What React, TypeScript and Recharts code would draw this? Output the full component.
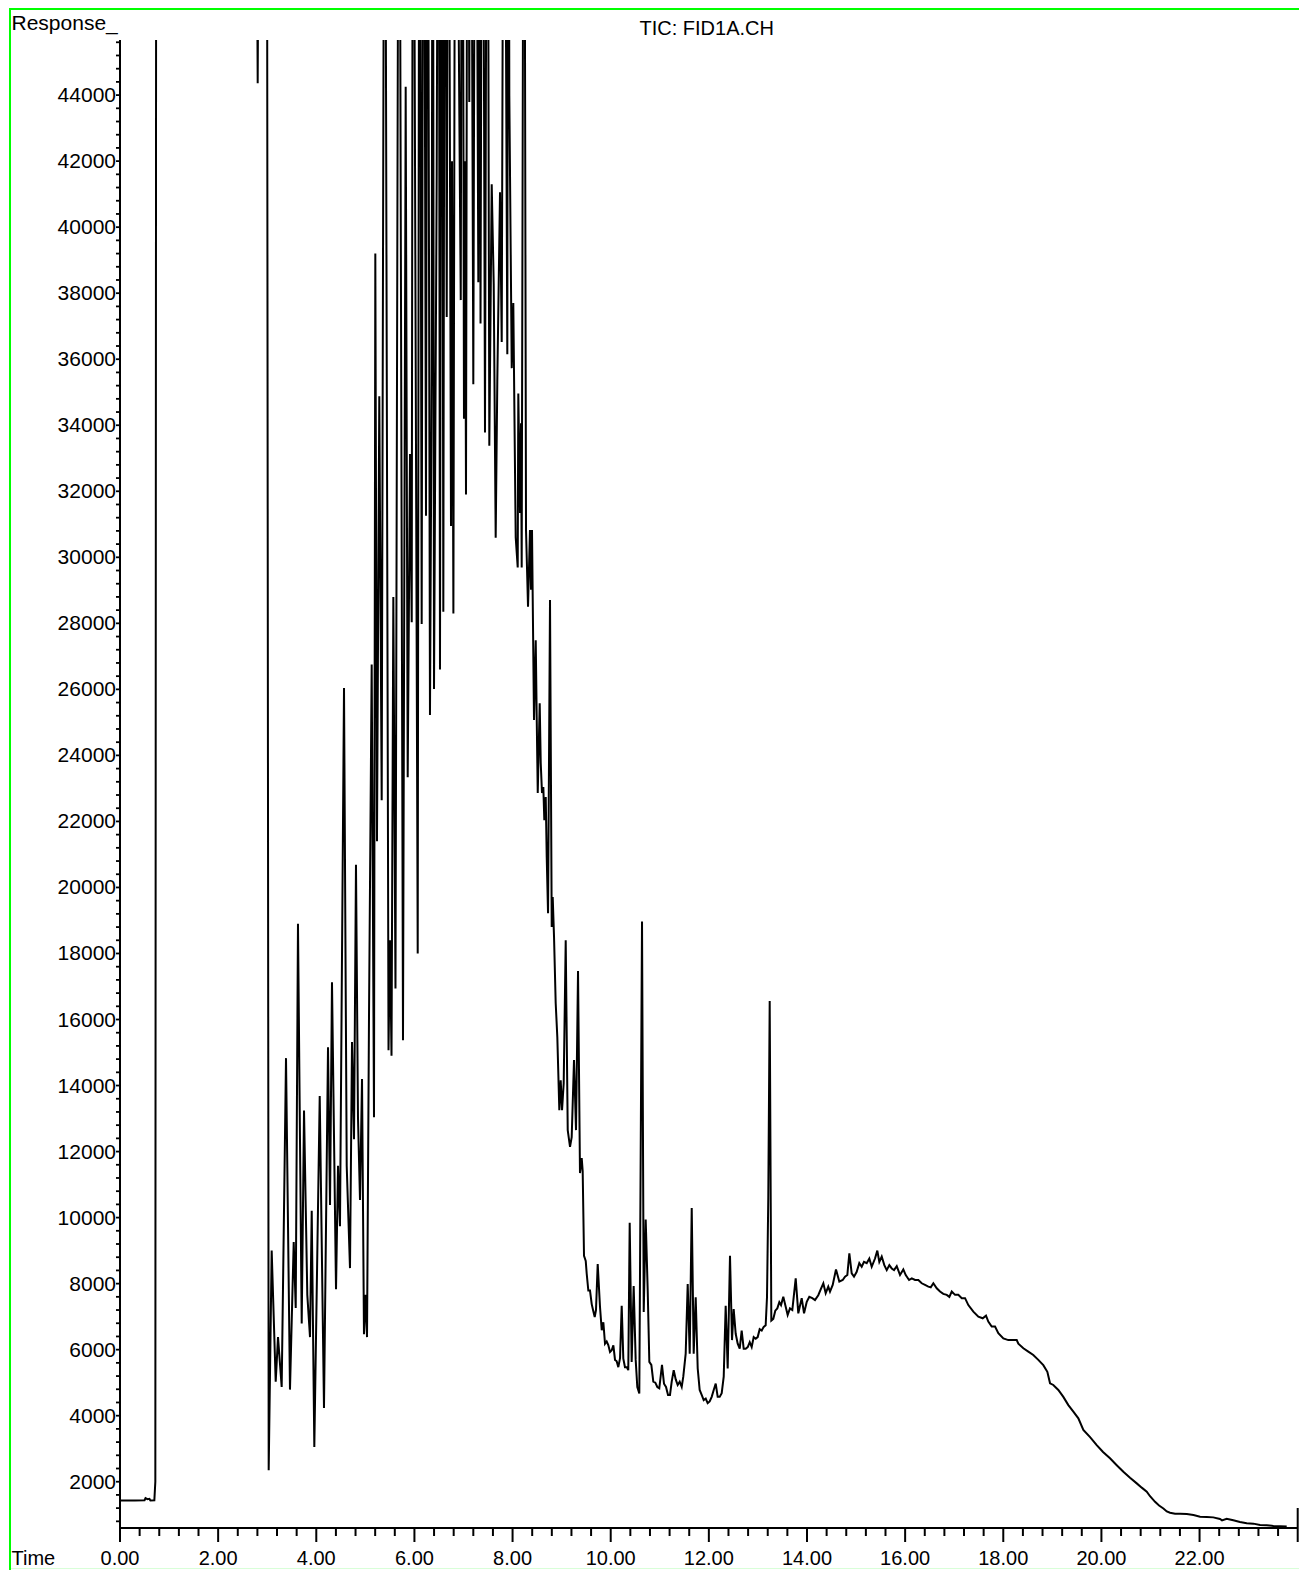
import React from 'react';
import { LineChart, Line, XAxis, YAxis } from 'recharts';

// Retention time (min)
const times: number[] = [
  0.0, 0.3, 0.5, 0.52, 0.56, 0.6, 0.62, 0.7, 0.72, 0.74, 1.5, 2.74,
  2.751, 2.806, 2.853, 2.95, 2.99, 3.03,
  3.091, 3.173, 3.22, 3.295, 3.383, 3.464, 3.54, 3.581, 3.627, 3.703, 3.75, 3.817, 3.872, 3.907, 3.96,
  4.07, 4.157, 4.239, 4.28, 4.32, 4.402, 4.443, 4.483, 4.565, 4.62, 4.687, 4.728, 4.769, 4.809, 4.85, 4.891, 4.932, 4.972,
  5.007, 5.034, 5.074, 5.129, 5.176, 5.203, 5.237, 5.284, 5.333, 5.394, 5.472, 5.502, 5.533, 5.57, 5.614, 5.686, 5.767, 5.822, 5.863, 5.91, 5.945, 5.971,
  6.067, 6.103, 6.148, 6.185, 6.236, 6.267, 6.317, 6.352, 6.373, 6.399, 6.454, 6.491, 6.521, 6.556, 6.589, 6.623, 6.658, 6.69, 6.745, 6.766, 6.794, 6.837, 6.915, 6.944, 6.976,
  7.01, 7.031, 7.051, 7.086, 7.118, 7.143, 7.2, 7.245, 7.302, 7.322, 7.347, 7.387, 7.438, 7.485, 7.526, 7.575, 7.616, 7.656, 7.689, 7.744, 7.779, 7.826, 7.893, 7.913, 7.934, 7.983,
  8.015, 8.064, 8.105, 8.117, 8.152, 8.172, 8.186, 8.233, 8.274, 8.315, 8.355, 8.376, 8.396, 8.437, 8.472, 8.492, 8.513, 8.553, 8.574, 8.6, 8.627, 8.647, 8.676, 8.696, 8.723, 8.763, 8.798, 8.818, 8.845, 8.879, 8.912, 8.953, 8.981,
  9.008, 9.042, 9.083, 9.124, 9.171, 9.205, 9.252, 9.293, 9.334, 9.374, 9.409, 9.429, 9.456, 9.491, 9.511, 9.544, 9.578, 9.613, 9.64, 9.674, 9.7, 9.735, 9.782, 9.817, 9.85, 9.884, 9.918, 9.951, 9.986,
  10.02, 10.054, 10.088, 10.122, 10.155, 10.19, 10.224, 10.257, 10.291, 10.326, 10.358, 10.387, 10.427, 10.468, 10.509, 10.542, 10.583, 10.638, 10.673, 10.713, 10.754, 10.787, 10.828, 10.868, 10.909, 10.95, 10.99,
  11.045, 11.086, 11.127, 11.168, 11.208, 11.243, 11.284, 11.325, 11.365, 11.406, 11.447, 11.479, 11.528, 11.569, 11.61, 11.651, 11.691, 11.732, 11.773, 11.813, 11.854, 11.895, 11.936, 11.976,
  12.017, 12.058, 12.099, 12.14, 12.18, 12.221, 12.262, 12.303, 12.343, 12.384, 12.431, 12.472, 12.506, 12.547, 12.588, 12.629, 12.669, 12.71, 12.751, 12.792, 12.833, 12.873, 12.914, 12.955, 12.995,
  13.036, 13.077, 13.118, 13.158, 13.185, 13.211, 13.24, 13.273, 13.313, 13.354, 13.395, 13.436, 13.471, 13.517, 13.566, 13.606, 13.653, 13.701, 13.77, 13.823, 13.892, 13.94, 13.995,
  14.047, 14.108, 14.163, 14.23, 14.286, 14.333, 14.381, 14.434, 14.469, 14.524, 14.591, 14.659, 14.728, 14.775, 14.822, 14.863, 14.911, 14.958,
  15.013, 15.066, 15.115, 15.162, 15.217, 15.27, 15.319, 15.386, 15.433, 15.474, 15.523, 15.576, 15.625, 15.678, 15.727, 15.774, 15.829, 15.896, 15.963,
  16.012, 16.08, 16.135, 16.202, 16.269, 16.338, 16.405, 16.473, 16.522, 16.575, 16.644, 16.711, 16.778, 16.848, 16.901, 16.95,
  17.017, 17.084, 17.154, 17.221, 17.288, 17.39, 17.492, 17.581, 17.648, 17.695, 17.764, 17.832, 17.899,
  18.001, 18.103, 18.192, 18.274, 18.307, 18.409, 18.51, 18.612, 18.714, 18.816, 18.898, 18.953,
  19.02, 19.122, 19.224, 19.326, 19.428, 19.53, 19.632, 19.769, 19.904,
  20.033, 20.175, 20.312, 20.447, 20.583, 20.72, 20.822, 20.924, 20.991,
  21.093, 21.175, 21.263, 21.332, 21.399, 21.501, 21.603, 21.74, 21.876,
  22.01, 22.147, 22.28, 22.417, 22.457, 22.553, 22.688, 22.824, 22.961,
  23.097, 23.233, 23.369, 23.505, 23.64, 23.776,
];

// Detector response
const responses: number[] = [
  1430, 1430, 1440, 1500, 1470, 1480, 1430, 1440, 2000, 60000, 60000, 60000,
  60000, 44360, 60000, 60000, 60000, 2350,
  9000, 5030, 6380, 4870, 14830, 4790, 9260, 7260, 18900, 6790, 13240, 7660, 6380, 10210, 3050,
  13680, 4230, 15160, 10380, 17130, 7830, 11570, 9740, 26040, 11570, 8470, 15320, 12370, 20690, 13020, 10530, 14200, 6470,
  7660, 6380, 16040, 26750, 13040, 39200, 21400, 34880, 22640, 60000, 15070, 18400, 14900, 28800, 16940, 60000, 15370, 44250, 23340, 33130, 28030, 60000,
  18000, 60000, 27980, 60000, 31260, 60000, 25220, 35600, 60000, 26010, 41580, 60000, 26600, 60000, 28350, 60000, 37280, 60000, 30950, 42000, 28300, 60000, 43420, 37790, 60000,
  34200, 42000, 31900, 60000, 43790, 60000, 35240, 60000, 38330, 60000, 37080, 60000, 33780, 60000, 33380, 41300, 38280, 30590, 35330, 41060, 36520, 60000, 36150, 60000, 43980, 35730,
  37700, 30600, 29690, 34960, 31340, 34060, 29690, 60000, 30830, 28500, 30830, 29020, 30830, 25070, 27490, 25160, 22860, 25580, 23770, 22860, 23040, 22040, 22740, 20920, 19220, 28710, 18800, 19710, 18500, 16490, 15470, 13250, 14160,
  13250, 14070, 18400, 12650, 12140, 12440, 14770, 12650, 17470, 11350, 11800, 11400, 8840, 8690, 8300, 7790, 7790, 7380, 7200, 6990, 7200, 8590, 7290, 6590, 6830, 6180, 6250, 6140, 5930,
  5980, 6130, 5690, 5650, 5470, 5740, 7330, 5730, 5470, 5470, 5380, 9840, 5630, 7930, 5690, 4870, 4670, 18970, 7140, 9940, 7790, 5630, 5540, 5030, 5000, 4870, 4830,
  5540, 4970, 4870, 4630, 4630, 5030, 5380, 5100, 4930, 5030, 4870, 5180, 5880, 7990, 5880, 10290, 5880, 7590, 5430, 4780, 4630, 4470, 4520, 4380,
  4430, 4570, 4780, 4970, 4570, 4570, 4680, 5180, 7330, 5430, 8840, 6290, 7230, 6480, 6180, 6030, 6580, 6030, 6030, 6080, 6230, 6080, 6380, 6330, 6380,
  6620, 6580, 6690, 6740, 7590, 10590, 16560, 6880, 6930, 7180, 7250, 7440, 7350, 7600, 7300, 7050, 7250, 7200, 8160, 7100, 7560, 7100, 7450,
  7600, 7560, 7500, 7650, 7850, 8010, 7710, 7910, 7760, 7960, 8430, 8060, 8110, 8210, 8260, 8920, 8310, 8210,
  8360, 8620, 8510, 8660, 8620, 8760, 8510, 8760, 9000, 8660, 8820, 8560, 8410, 8560, 8460, 8410, 8530, 8260, 8430,
  8260, 8110, 8160, 8110, 8110, 8010, 7960, 7910, 7890, 8010, 7860, 7760, 7690, 7660, 7600, 7760,
  7660, 7660, 7560, 7560, 7350, 7150, 7000, 6950, 7030, 6850, 6700, 6700, 6500,
  6340, 6290, 6290, 6290, 6180, 6040, 5940, 5840, 5690, 5530, 5330, 4980,
  4930, 4780, 4570, 4320, 4120, 3920, 3570, 3350, 3110,
  2900, 2710, 2500, 2300, 2120, 1950, 1820, 1700, 1560,
  1390, 1280, 1190, 1100, 1060, 1030, 1030, 1020, 990,
  940, 930, 920, 870, 830, 880, 830, 780, 740,
  730, 690, 680, 660, 650, 640,
];

const xMajorTicks: number[] = [0, 2, 4, 6, 8, 10, 12, 14, 16, 18, 20, 22];
const xMajorLabels: string[] = ['0.00', '2.00', '4.00', '6.00', '8.00', '10.00', '12.00', '14.00', '16.00', '18.00', '20.00', '22.00'];
const yMajorTicks: number[] = [2000, 4000, 6000, 8000, 10000, 12000, 14000, 16000, 18000, 20000, 22000, 24000, 26000, 28000, 30000, 32000, 34000, 36000, 38000, 40000, 42000, 44000];
const yMajorLabels: string[] = yMajorTicks.map((v) => String(v));

const X_DOMAIN: [number, number] = [0, 24];
const Y_DOMAIN: [number, number] = [598, 45669];

const data = times.map((t, i) => ({ t, r: responses[i] }));

const xTicks: number[] = [];
for (let i = 0; i <= 60; i++) xTicks.push(Math.round(i * 40) / 100);
const yTicks: number[] = [];
for (let v = 800; v <= 45600; v += 400) yTicks.push(v);

const FONT = 'Arial, "Liberation Sans", Helvetica, sans-serif';

const XTick = (props: any) => {
  const { x, y, payload } = props;
  const v: number = payload.value;
  if (v >= 24) {
    return <line x1={x} x2={x} y1={y - 20} y2={y + 14} stroke="#000" strokeWidth={2} />;
  }
  const idx = xMajorTicks.findIndex((m) => Math.abs(m - v) < 1e-6);
  const isMajor = idx >= 0;
  return (
    <g>
      <line x1={x} x2={x} y1={y} y2={y + (isMajor ? 14 : 8)} stroke="#000" strokeWidth={2} />
      {isMajor && (
        <text x={x} y={y + 37} textAnchor="middle" fontSize={20} fontFamily={FONT} fill="#000">
          {xMajorLabels[idx]}
        </text>
      )}
    </g>
  );
};

const YTick = (props: any) => {
  const { x, y, payload } = props;
  const v: number = payload.value;
  const idx = yMajorTicks.indexOf(v);
  return (
    <g>
      <line x1={x - 4} x2={x} y1={y} y2={y} stroke="#000" strokeWidth={1.8} />
      {idx >= 0 && (
        <text x={x - 4} y={y + 7} textAnchor="end" fontSize={21} fontFamily={FONT} fill="#000">
          {yMajorLabels[idx]}
        </text>
      )}
    </g>
  );
};

export default function App() {
  return (
    <div style={{ position: 'absolute', left: 0, top: 0, width: 1299, height: 1570, background: '#fff', overflow: 'hidden' }}>
      <LineChart width={1299} height={1570} data={data} margin={{ top: 40, right: 1.3, bottom: 0, left: 0 }}>
        <XAxis
          dataKey="t"
          type="number"
          domain={X_DOMAIN}
          allowDataOverflow
          ticks={xTicks}
          interval={0}
          height={42}
          tickSize={0}
          tickMargin={0}
          tickLine={false}
          axisLine={{ stroke: '#000', strokeWidth: 2 }}
          tick={<XTick />}
        />
        <YAxis
          type="number"
          domain={Y_DOMAIN}
          allowDataOverflow
          ticks={yTicks}
          interval={0}
          width={120}
          tickSize={0}
          tickMargin={0}
          tickLine={false}
          axisLine={{ stroke: '#000', strokeWidth: 2 }}
          tick={<YTick />}
        />
        <Line
          type="linear"
          dataKey="r"
          stroke="#000"
          strokeWidth={2}
          dot={false}
          activeDot={false}
          isAnimationActive={false}
        />
      </LineChart>
      <svg width={1299} height={1570} style={{ position: 'absolute', left: 0, top: 0, pointerEvents: 'none' }}>
        <line x1={9} x2={1299} y1={9} y2={9} stroke="#00ff00" strokeWidth={2} />
        <line x1={10} x2={10} y1={8} y2={1570} stroke="#00ff00" strokeWidth={2} />
        <line x1={11} x2={1299} y1={1568.5} y2={1568.5} stroke="#d8ffd8" strokeWidth={1} />
        <text x={11.5} y={30} fontSize={21} fontFamily={FONT} fill="#000">Response_</text>
        <text x={706.7} y={35} fontSize={20} fontFamily={FONT} fill="#000" textAnchor="middle">TIC: FID1A.CH</text>
        <text x={11.5} y={1565} fontSize={20} fontFamily={FONT} fill="#000">Time</text>
      </svg>
    </div>
  );
}
